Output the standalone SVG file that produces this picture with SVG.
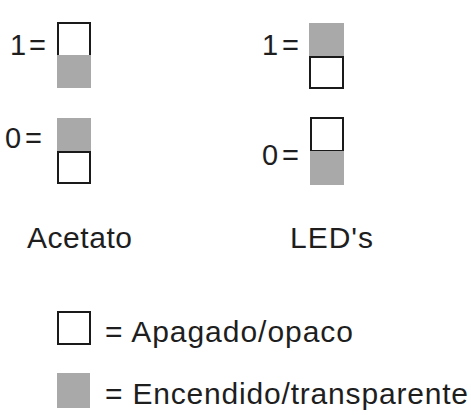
<svg xmlns="http://www.w3.org/2000/svg" width="471" height="415" viewBox="0 0 471 415">
<style>
.t{font-family:"Liberation Sans",Arial,sans-serif;fill:#1e1e1e}
.big{font-size:29px}
.lbl{font-size:30px}
.off{fill:#fff;stroke:#1a1a1a;stroke-width:2}
.on{fill:#a9a9a9}
</style>
<rect width="471" height="415" fill="#fff"/>
<g id="acetato-1">
<text class="t big" x="10" y="55" textLength="36">1=</text>
<rect class="off" x="58" y="23" width="32" height="33"/>
<rect class="on" x="57" y="55" width="34" height="33"/>
</g>
<g id="acetato-0">
<text class="t big" x="5" y="148" textLength="37">0=</text>
<rect class="on" x="57" y="118" width="34" height="34"/>
<rect class="off" x="58" y="152" width="32" height="31"/>
</g>
<g id="led-1">
<text class="t big" x="262" y="55" textLength="37">1=</text>
<rect class="on" x="309" y="23" width="35" height="34"/>
<rect class="off" x="310" y="57" width="33" height="31"/>
</g>
<g id="led-0">
<text class="t big" x="262" y="165" textLength="37">0=</text>
<rect class="off" x="311" y="118" width="32" height="33"/>
<rect class="on" x="310" y="151" width="34" height="34"/>
</g>
<g id="labels">
<text class="t lbl" x="27" y="248" textLength="105">Acetato</text>
<text class="t lbl" x="290" y="248" textLength="83">LED's</text>
</g>
<g id="legend">
<rect class="off" x="58" y="312" width="32" height="32"/>
<text class="t lbl" x="105" y="342" textLength="248">= Apagado/opaco</text>
<rect class="on" x="57" y="373" width="33" height="35"/>
<text class="t lbl" x="105" y="404" textLength="363">= Encendido/transparente</text>
</g>
<g id="connectors"/>
</svg>
